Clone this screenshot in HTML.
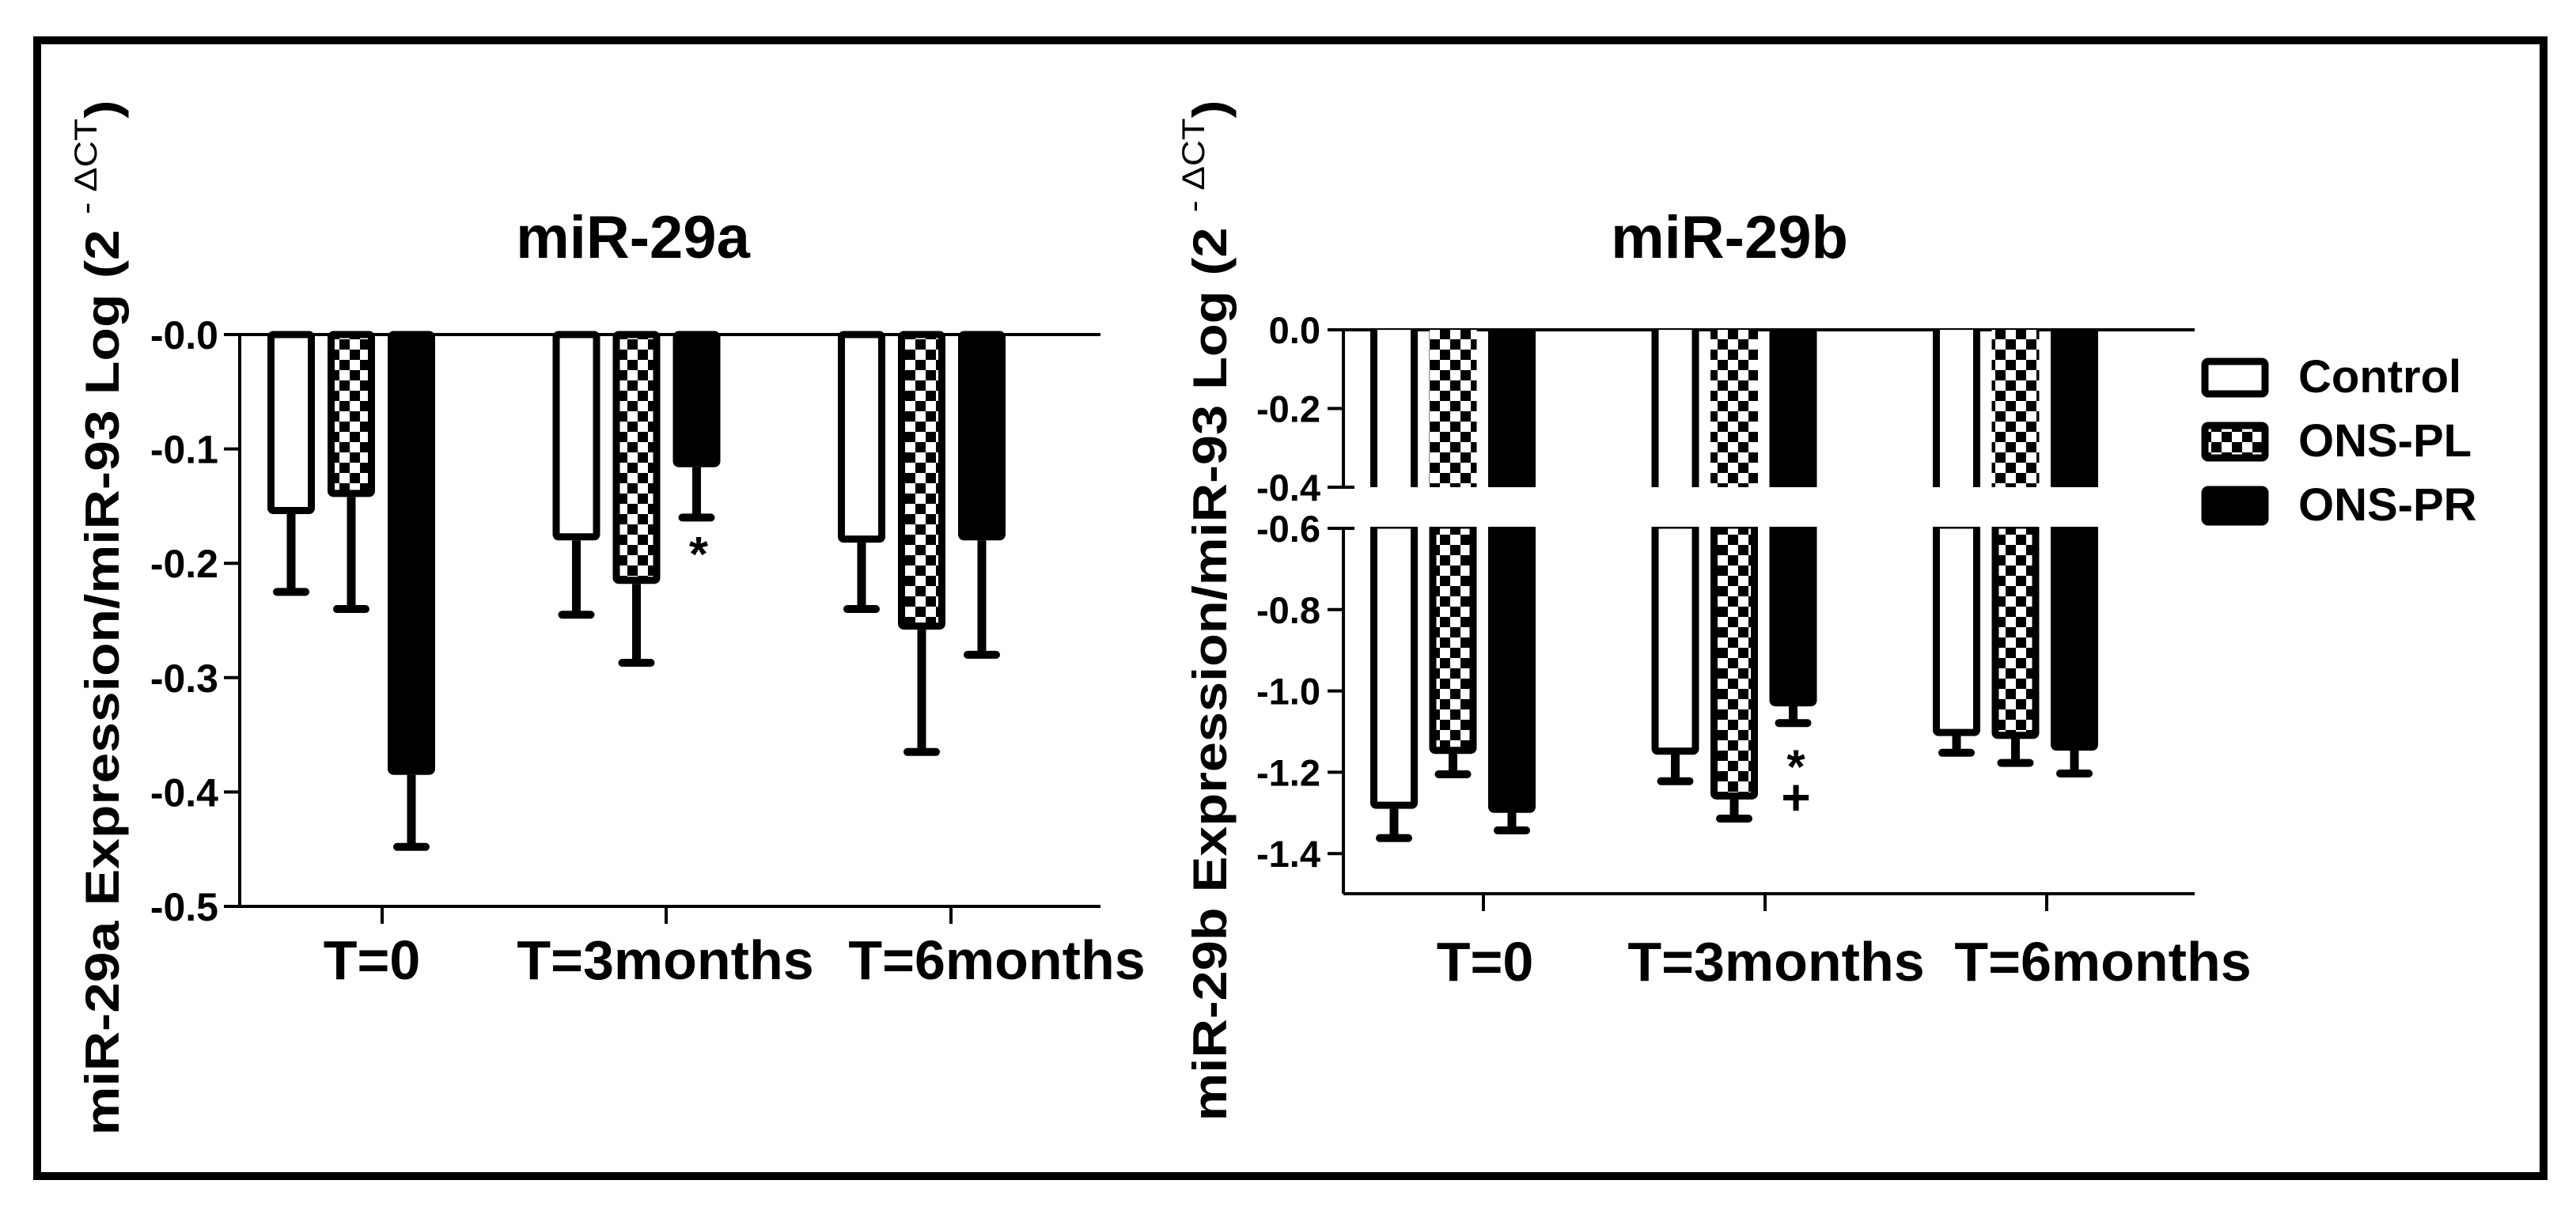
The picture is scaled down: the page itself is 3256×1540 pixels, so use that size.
<!DOCTYPE html>
<html><head><meta charset="utf-8"><style>
html,body{margin:0;padding:0;background:#fff;}
svg{display:block;}
text{font-family:"Liberation Sans",Arial,sans-serif;font-weight:bold;fill:#000;}
</style></head><body>
<svg id="fig" width="3256" height="1540" viewBox="0 0 3256 1540" xmlns="http://www.w3.org/2000/svg">
<defs>
<pattern id="chk" patternUnits="userSpaceOnUse" width="26" height="26">
<rect width="26" height="26" fill="#fff"/><rect width="13" height="13" fill="#000"/><rect x="13" y="13" width="13" height="13" fill="#000"/>
</pattern>
</defs>
<rect x="47" y="51" width="3168" height="1436" fill="none" stroke="#000" stroke-width="10"/>
<g id="c1"></g>
<g id="c2"></g>
<g id="legend"></g>
</svg>
<script>
const categories = ["T=0", "T=3months", "T=6months"];
const seriesNames = ["Control", "ONS-PL", "ONS-PR"];
// miR-29a means and lower error ends
const a_control = [-0.157, -0.180, -0.182];
const a_pl = [-0.142, -0.218, -0.258];
const a_pr = [-0.385, -0.116, -0.180];
const a_control_err = [-0.225, -0.245, -0.240];
const a_pl_err = [-0.240, -0.287, -0.365];
const a_pr_err = [-0.448, -0.160, -0.280];
const a_ticks = [0, -0.1, -0.2, -0.3, -0.4, -0.5];
const a_tickLabels = ["-0.0", "-0.1", "-0.2", "-0.3", "-0.4", "-0.5"];
// miR-29b
const b_control = [-1.289, -1.156, -1.110];
const b_pl = [-1.154, -1.266, -1.117];
const b_pr = [-1.299, -1.037, -1.146];
const b_control_err = [-1.362, -1.222, -1.152];
const b_pl_err = [-1.205, -1.314, -1.177];
const b_pr_err = [-1.343, -1.079, -1.203];
const b_ticksUpper = [0, -0.2, -0.4];
const b_ticksLower = [-0.6, -0.8, -1.0, -1.2, -1.4];
const b_tickLabelsUpper = ["0.0", "-0.2", "-0.4"];
const b_tickLabelsLower = ["-0.6", "-0.8", "-1.0", "-1.2", "-1.4"];

const NS = "http://www.w3.org/2000/svg";
function mk(parent, tag, attrs, txt) {
  const e = document.createElementNS(NS, tag);
  for (const k in attrs) e.setAttribute(k, attrs[k]);
  if (txt !== undefined) e.textContent = txt;
  parent.appendChild(e);
  return e;
}
const fills = ["#fff", "url(#chk)", "#000"];
const fillNames = ["control", "ons-pl", "ons-pr"];

// ---------- Chart 1 ----------
const g1 = document.getElementById("c1");
const y1 = v => 423 - v * 1446;
const gx1 = i => 338 + i * 360.5;
const bx1 = j => j * 76;
const ax1L = 303, ax1R = 1391;
let e;
e = mk(g1, "text", {x: 800, y: 326, "font-size": 76, "text-anchor": "middle"}, "miR-29a");


e = mk(g1, "line", {x1: ax1L, y1: y1(0), x2: ax1R, y2: y1(0), stroke: "#000", "stroke-width": 4});


e = mk(g1, "line", {x1: ax1L, y1: y1(0), x2: ax1L, y2: y1(-0.5), stroke: "#000", "stroke-width": 4});


e = mk(g1, "line", {x1: ax1L, y1: y1(-0.5), x2: ax1R, y2: y1(-0.5), stroke: "#000", "stroke-width": 4});


a_ticks.forEach((t, i) => {
  const tk = mk(g1, "line", {x1: ax1L - 20, y1: y1(t), x2: ax1L, y2: y1(t), stroke: "#000", "stroke-width": 4});
  
  
  const tl = mk(g1, "text", {x: 276, y: y1(t) + 18, "font-size": 50, "text-anchor": "end"}, a_tickLabels[i]);
  
  
});
const xTick1 = [483, 842, 1202];
const xLab1 = [470, 841, 1260];
categories.forEach((c, i) => {
  const tk = mk(g1, "line", {x1: xTick1[i], y1: y1(-0.5), x2: xTick1[i], y2: y1(-0.5) + 22, stroke: "#000", "stroke-width": 4});
  
  
  const tl = mk(g1, "text", {x: xLab1[i], y: 1238, "font-size": 70, "text-anchor": "middle"}, c);
  
  
});
function drawErr(g, cx, yTop, yBot, name) {
  const s = mk(g, "line", {x1: cx, y1: yTop, x2: cx, y2: yBot, stroke: "#000", "stroke-width": 11});
  
  
  const cp = mk(g, "line", {x1: cx - 18, y1: yBot, x2: cx + 18, y2: yBot, stroke: "#000", "stroke-width": 10, "stroke-linecap": "round"});
  
  
}
const aVals = [a_control, a_pl, a_pr], aErr = [a_control_err, a_pl_err, a_pr_err];
categories.forEach((c, i) => {
  for (let j = 0; j < 3; j++) {
    const x = gx1(i) + bx1(j);
    const yb = y1(aVals[j][i]);
    drawErr(g1, x + 30, yb, y1(aErr[j][i]), 'error-bar-a');
    const r = mk(g1, "rect", {x: x + 4.5, y: y1(0), width: 51, height: yb - y1(0) - 4.5, fill: fills[j], stroke: "#000", "stroke-width": 9, rx: 3});
    
    
  }
});
e = mk(g1, "text", {x: 883, y: 722, "font-size": 62, "text-anchor": "middle"}, "*");


const yt1 = mk(g1, "text", {x: 0, y: 0, "font-size": 60, "text-anchor": "middle", transform: "translate(150,781) rotate(-90)", textLength: 1309, lengthAdjust: "spacingAndGlyphs"});


mk(yt1, "tspan", {}, "miR-29a Expression/miR-93 Log (2 ");
mk(yt1, "tspan", {dy: -28, "font-size": 40, "font-weight": "normal"}, "- ΔCT");
mk(yt1, "tspan", {dy: 28}, ")");

// ---------- Chart 2 ----------
const g2 = document.getElementById("c2");
const y2 = v => v >= -0.4 ? 417 - v * 497.5 : 668 + (-0.6 - v) * 514;
const gx2 = i => 1732 + i * 355.5;
const bx2 = j => j * 74.5;
const ax2L = 1698, ax2R = 2774, yBottom2 = 1130;
e = mk(g2, "text", {x: 2186, y: 326, "font-size": 76, "text-anchor": "middle"}, "miR-29b");


e = mk(g2, "line", {x1: ax2L, y1: y2(0), x2: ax2R, y2: y2(0), stroke: "#000", "stroke-width": 4});


e = mk(g2, "line", {x1: ax2L, y1: y2(0), x2: ax2L, y2: y2(-0.4), stroke: "#000", "stroke-width": 4});


e = mk(g2, "line", {x1: ax2L, y1: y2(-0.6), x2: ax2L, y2: yBottom2, stroke: "#000", "stroke-width": 4});


e = mk(g2, "line", {x1: ax2L, y1: yBottom2, x2: ax2R, y2: yBottom2, stroke: "#000", "stroke-width": 4});


[[b_ticksUpper, b_tickLabelsUpper], [b_ticksLower, b_tickLabelsLower]].forEach(([tks, lbs]) => {
  tks.forEach((t, i) => {
    const ext = (t === -0.4 || t === -0.6) ? 14 : 0;
    const tk = mk(g2, "line", {x1: ax2L - 20, y1: y2(t), x2: ax2L + ext, y2: y2(t), stroke: "#000", "stroke-width": 4});
    
    
    const tl = mk(g2, "text", {x: 1669, y: y2(t) + 17, "font-size": 47, "text-anchor": "end"}, lbs[i]);
    
    
  });
});
const xTick2 = [1875, 2231, 2587];
const xLab2 = [1877, 2245, 2658];
categories.forEach((c, i) => {
  const tk = mk(g2, "line", {x1: xTick2[i], y1: yBottom2, x2: xTick2[i], y2: yBottom2 + 22, stroke: "#000", "stroke-width": 4});
  
  
  const tl = mk(g2, "text", {x: xLab2[i], y: 1240, "font-size": 70, "text-anchor": "middle"}, c);
  
  
});
const bVals = [b_control, b_pl, b_pr], bErr = [b_control_err, b_pl_err, b_pr_err];
categories.forEach((c, i) => {
  for (let j = 0; j < 3; j++) {
    const x = gx2(i) + bx2(j);
    const yb = y2(bVals[j][i]);
    drawErr(g2, x + 30, yb, y2(bErr[j][i]), 'error-bar-b');
    const up = mk(g2, "rect", {x: x, y: y2(0), width: 60, height: y2(-0.4) - y2(0), fill: fills[j] === "#fff" ? "#000" : fills[j]});
    
    
    if (j !== 2) {
      const inner = mk(g2, "rect", {x: x + 9, y: y2(0), width: 42, height: y2(-0.4) - y2(0), fill: fills[j]});
      
      
    }
    const r = mk(g2, "rect", {x: x + 4.5, y: y2(-0.6) - 4, width: 51, height: yb - y2(-0.6), fill: fills[j], stroke: "#000", "stroke-width": 9, rx: 3});
    
    
    const cover = mk(g2, "rect", {x: x - 2, y: y2(-0.6) - 10, width: 64, height: 8, fill: "#fff"});
    
    
  }
});
e = mk(g2, "text", {x: 2270, y: 990, "font-size": 60, "text-anchor": "middle"}, "*");


e = mk(g2, "text", {x: 2270, y: 1030, "font-size": 64, "text-anchor": "middle"}, "+");


const yt2 = mk(g2, "text", {x: 0, y: 0, "font-size": 60, "text-anchor": "middle", transform: "translate(1550,772) rotate(-90)", textLength: 1291, lengthAdjust: "spacingAndGlyphs"});


mk(yt2, "tspan", {}, "miR-29b Expression/miR-93 Log (2 ");
mk(yt2, "tspan", {dy: -28, "font-size": 40, "font-weight": "normal"}, "- ΔCT");
mk(yt2, "tspan", {dy: 28}, ")");

// ---------- Legend ----------
const lg = document.getElementById("legend");
seriesNames.forEach((n, j) => {
  const yy = 453 + j * 81;
  const bx = mk(lg, "rect", {x: 2787, y: yy + 4, width: 76, height: 41, fill: fills[j], stroke: "#000", "stroke-width": 9, rx: 4});
  
  
  const t = mk(lg, "text", {x: 2905, y: yy + 43, "font-size": 58}, n);
  
  
});
</script>
</body></html>
